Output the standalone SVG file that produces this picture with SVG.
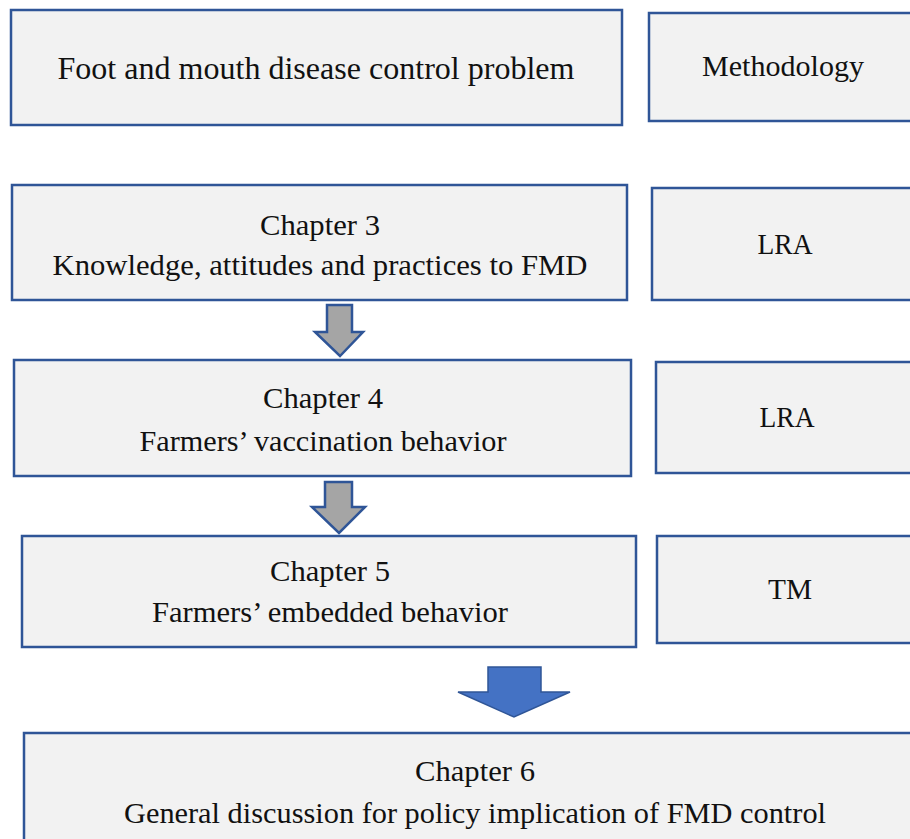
<svg xmlns="http://www.w3.org/2000/svg" width="910" height="839" viewBox="0 0 910 839">
<style>
.box{fill:#f2f2f2;stroke:#2f5597;stroke-width:2.5}
.t{font-family:"Liberation Serif","Times New Roman",serif;font-size:29px;fill:#111;text-anchor:middle}
.big{font-size:32px}
.ga{fill:#a5a5a5;stroke:#2f5597;stroke-width:2.5;stroke-linejoin:miter}
.ba{fill:#4472c4;stroke:#2f5597;stroke-width:1.5}
</style>
<rect width="910" height="839" fill="#ffffff"/>
<g id="problem"><rect class="box" x="11" y="10" width="611" height="115"/><text class="t big" x="316" y="79" textLength="517" lengthAdjust="spacingAndGlyphs">Foot and mouth disease control problem</text></g>
<g id="methodology"><rect class="box" x="649" y="13" width="270" height="108"/><text class="t" x="783" y="76" textLength="162" lengthAdjust="spacingAndGlyphs">Methodology</text></g>
<g id="ch3"><rect class="box" x="12" y="185" width="615" height="115"/><text class="t" x="320" y="235" textLength="120" lengthAdjust="spacingAndGlyphs">Chapter 3</text><text class="t" x="320" y="275" textLength="535" lengthAdjust="spacingAndGlyphs">Knowledge, attitudes and practices to FMD</text></g>
<g id="lra1"><rect class="box" x="652" y="188" width="270" height="112"/><text class="t" x="785" y="254" textLength="55" lengthAdjust="spacingAndGlyphs">LRA</text></g>
<g id="ch4"><rect class="box" x="14" y="360" width="617" height="116"/><text class="t" x="323" y="408" textLength="120" lengthAdjust="spacingAndGlyphs">Chapter 4</text><text class="t" x="323" y="451" textLength="367" lengthAdjust="spacingAndGlyphs">Farmers’ vaccination behavior</text></g>
<g id="lra2"><rect class="box" x="656" y="362" width="270" height="111"/><text class="t" x="787" y="427" textLength="55" lengthAdjust="spacingAndGlyphs">LRA</text></g>
<g id="ch5"><rect class="box" x="22" y="536" width="614" height="111"/><text class="t" x="330" y="581" textLength="120" lengthAdjust="spacingAndGlyphs">Chapter 5</text><text class="t" x="330" y="622" textLength="356" lengthAdjust="spacingAndGlyphs">Farmers’ embedded behavior</text></g>
<g id="tm"><rect class="box" x="657" y="536" width="270" height="107"/><text class="t" x="790" y="599" textLength="44" lengthAdjust="spacingAndGlyphs">TM</text></g>
<g id="ch6"><rect class="box" x="24" y="733" width="902" height="120"/><text class="t" x="475" y="781" textLength="120" lengthAdjust="spacingAndGlyphs">Chapter 6</text><text class="t" x="475" y="823" textLength="702" lengthAdjust="spacingAndGlyphs">General discussion for policy implication of FMD control</text></g>
<g id="connectors">
<polygon class="ga" points="327,305 352,305 352,332 363,332 340,356 315,332 327,332"/>
<polygon class="ga" points="325,482 352,482 352,507 365,507 339,533 312,507 325,507"/>
<polygon class="ba" points="488,667 541,667 541,692 570,692 514,717 458,692 488,692"/>
</g>
</svg>
